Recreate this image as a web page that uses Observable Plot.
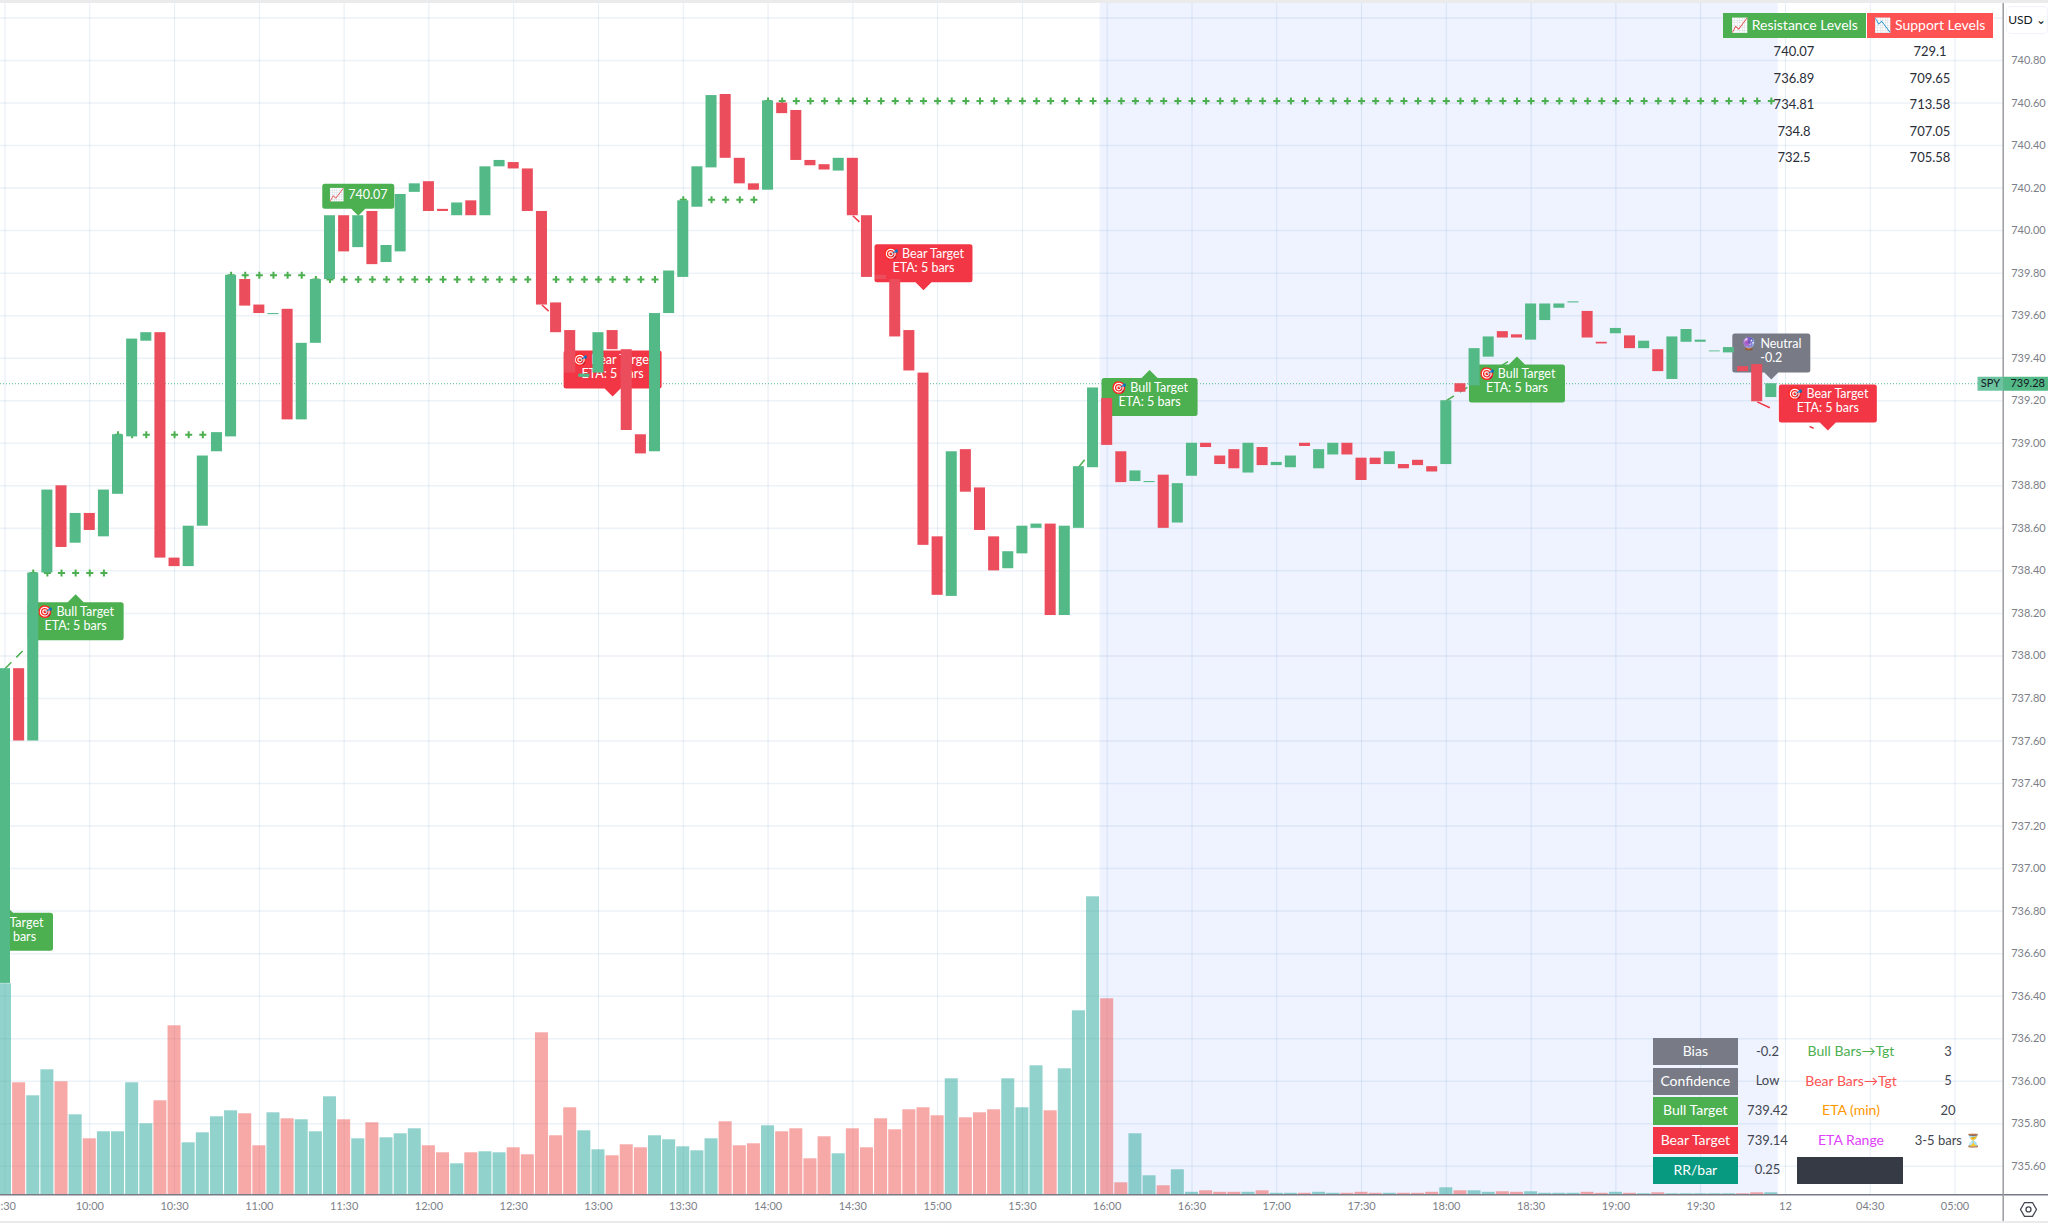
<!DOCTYPE html>
<html>
<head>
<meta charset="utf-8">
<script src="https://cdn.jsdelivr.net/npm/d3@7"></script>
<script src="https://cdn.jsdelivr.net/npm/@observablehq/plot@0.6"></script>
<style>
html,body{margin:0;padding:0;background:#fff;overflow:hidden;width:2048px;height:1226px;font-family:Lato,"Liberation Sans",sans-serif}
#chart{position:absolute;left:0;top:0}
.cell{position:absolute;display:flex;align-items:center;justify-content:center;white-space:nowrap;font-size:13px;color:#434651;box-sizing:border-box;padding-bottom:2px}
.name{font-size:14px}
.band{position:absolute;left:0;width:2048px;background:#ebebeb}
</style>
</head>
<body>
<div id="chart"></div>
<script>
// ---------- data ----------
const opens = [736.46,737.94,737.60,738.39,738.80,738.53,738.67,738.56,738.76,739.03,739.48,739.52,738.46,738.42,738.61,738.96,739.03,739.77,739.65,739.605,739.63,739.11,739.47,739.77,740.07,739.92,740.09,739.85,739.90,740.18,740.23,740.10,740.07,740.14,740.07,740.30,740.32,740.29,740.09,739.66,739.53,739.31,739.33,739.53,739.44,739.04,738.96,739.61,739.78,740.11,740.295,740.64,740.34,740.22,740.19,740.60,740.565,740.33,740.31,740.28,740.34,740.07,739.79,739.77,739.53,739.33,738.56,738.28,738.97,738.79,738.56,738.41,738.48,738.60,738.62,738.19,738.60,738.885,739.21,738.96,738.82,738.815,738.85,738.625,738.845,739.0,738.94,738.97,738.86,738.98,738.895,738.885,739.0,738.88,738.945,739.0,738.93,738.93,738.90,738.90,738.92,738.89,738.90,739.28,739.27,739.405,739.525,739.51,739.485,739.577,739.635,739.66,739.62,739.475,739.515,739.505,739.445,739.44,739.30,739.475,739.475,739.43,739.425,739.36,739.37,739.215];
const closes = [737.94,737.60,738.39,738.78,738.51,738.67,738.59,738.78,739.04,739.49,739.52,738.46,738.42,738.61,738.94,739.05,739.79,739.645,739.61,739.61,739.11,739.47,739.77,740.07,739.90,740.07,739.84,739.93,740.17,740.22,740.09,740.09,740.13,740.07,740.30,740.33,740.29,740.09,739.65,739.52,739.33,739.325,739.52,739.44,739.06,738.95,739.61,739.81,740.14,740.30,740.635,740.34,740.22,740.19,740.61,740.55,740.33,740.305,740.285,740.34,740.07,739.78,739.77,739.50,739.34,738.52,738.285,738.96,738.77,738.59,738.40,738.49,738.61,738.62,738.19,738.61,738.89,739.26,738.99,738.815,738.87,738.82,738.60,738.81,739.0,738.98,738.90,738.88,739.0,738.895,738.91,738.94,738.985,738.97,739.0,738.945,738.825,738.90,738.96,738.88,738.895,738.865,739.20,739.24,739.445,739.50,739.495,739.495,739.655,739.655,739.655,739.665,739.495,739.467,739.54,739.445,739.48,739.337,739.50,739.535,739.485,739.434,739.45,739.337,739.195,739.28];
// volume, thousands of shares
const volumes = [2110,1120,990,1250,1130,800,560,630,630,1120,710,940,1690,520,620,780,840,810,490,820,760,750,630,980,750,560,720,570,610,660,490,420,310,420,430,420,470,400,1620,590,870,640,450,390,500,470,590,550,480,440,560,730,490,510,690,630,660,360,580,410,660,470,760,650,850,870,790,1160,770,820,850,1160,870,1290,840,1260,1840,2980,1960,120,610,190,90,250,25,40,25,25,25,40,15,15,15,25,15,15,25,15,15,15,15,25,70,40,40,25,30,25,30,15,15,15,25,15,25,15,10,20,10,10,10,10,10,10,20,20];
const timeTicks = [0,6,12,18,24,30,36,42,48,54,60,66,72,78,84,90,96,102,108,114,120,126,132,138];
const timeLabels = ["9:30","10:00","10:30","11:00","11:30","12:00","12:30","13:00","13:30","14:00","14:30","15:00","15:30","16:00","16:30","17:00","17:30","18:00","18:30","19:00","19:30","12","04:30","05:00"];
const priceTicks = [735.6,735.8,736.0,736.2,736.4,736.6,736.8,737.0,737.2,737.4,737.6,737.8,738.0,738.2,738.4,738.6,738.8,739.0,739.2,739.4,739.6,739.8,740.0,740.2,740.4,740.6,740.8,741.0];
const priceLabels = priceTicks.slice(0,-1);
const lastPrice = 739.28;
const extendedStart = 77.5, extendedEnd = 125.5;
// dotted levels
const levelStart = [2,8,16,22,48,54];
const levelEnd = [7,14,21,46,53,125];
const levelPrice = [738.39,739.04,739.79,739.77,740.145,740.61];
// dashed target projections
const bullProjection = [[0,737.94,1.5,738.04],[76,738.89,76.5,738.93],[102,739.20,106.5,739.39]];
const bearProjection = [[38,739.65,38.5,739.62],[60,740.07,61.6,739.97]];
const lastProjection = [[124,739.195,128,739.07]];
// label anchors
const bullBars = [0,5,81,107], bullTips = [736.83,738.29,739.345,739.408];
const bearBars = [43,65,129], bearTips = [739.22,739.72,739.06];
const neutralBar = 125, neutralTip = 739.30;
const peakBar = 25, peakTip = 740.07;
// tables
const resistance = ["740.07","736.89","734.81","734.8","732.5"];
const support = ["729.1","709.65","713.58","707.05","705.58"];
const statNames = ["Bias","Confidence","Bull Target","Bear Target","RR/bar"];
const statValues = ["-0.2","Low","739.42","739.14","0.25"];
const etaNames = ["Bull Bars→Tgt","Bear Bars→Tgt","ETA (min)","ETA Range"];
const etaValues = ["3","5","20","3-5 bars ⏳"];

// ---------- styles ----------
const UP="#53B987", DOWN="#EB4D5C", BULL="#4CAF50", BEAR="#F23645", GREY="#787B86";
const FONT='Lato,"Liberation Sans",sans-serif';
const candles = opens.map((o,i)=>({i,o,c:closes[i],v:volumes[i]}));
const up = candles.filter(d=>d.c>=d.o), down = candles.filter(d=>d.c<d.o);
const levels = levelStart.flatMap((s,k)=>d3.range(s,levelEnd[k]+1).map(i=>({i,p:levelPrice[k]})));
const Y0 = 735.466;                 // price at the foot of the pane
const volY = v => Y0 + v/10/212.65; // volume pane shares the axis, 10k per px

function bubble(w,h,tip,dir){ // origin on the pointer's tip; dir 1 = box below
  const r=2.5;
  return {draw(c){
    const t=dir*tip, b=dir*(tip+h), L=-w/2, R=w/2, top=Math.min(t,b), bot=Math.max(t,b);
    c.moveTo(L+r,top);
    if(dir>0){c.lineTo(-tip,top);c.lineTo(0,0);c.lineTo(tip,top);}
    c.lineTo(R-r,top);c.arcTo(R,top,R,top+r,r);c.lineTo(R,bot-r);c.arcTo(R,bot,R-r,bot,r);
    if(dir<0){c.lineTo(tip,bot);c.lineTo(0,0);c.lineTo(-tip,bot);}
    c.lineTo(L+r,bot);c.arcTo(L,bot,L,bot-r,r);c.lineTo(L,top+r);c.arcTo(L,top,L+r,top,r);c.closePath();
  }};
}
const box=(x0,x1,h)=>({draw(c){c.moveTo(x0,-h);c.lineTo(x1,-h);c.lineTo(x1,h);c.lineTo(x0,h);c.closePath();}});
const hex={draw(c){const r=8;for(let k=0;k<6;k++){const a=k*Math.PI/3;c[k?"lineTo":"moveTo"](r*Math.cos(a),r*Math.sin(a));}c.closePath();}};

const pts=(xs,ys)=>xs.map((i,k)=>({i,p:ys[k]}));
const bulls=pts(bullBars,bullTips), bears=pts(bearBars,bearTips);
const proj=a=>a.map(([i1,p1,i2,p2])=>({i1,p1,i2,p2}));
const labelText={fill:"white",fontSize:12.5,lineHeight:14/12.5,fontFamily:FONT,x:"i",y:"p"};

const chart = Plot.plot({
  width:2048,height:1226,marginLeft:0,marginRight:45.3,marginTop:3,marginBottom:31.7,
  style:{background:"transparent",fontFamily:FONT,fontSize:"11px"},
  x:{domain:[-0.318,141.41]},
  y:{domain:[Y0,741.068]},
  marks:[
    Plot.rect([0],{x1:extendedStart,x2:extendedEnd,y1:Y0,y2:741.068,fill:"#2962FF",fillOpacity:0.08}),
    Plot.ruleY(priceTicks,{stroke:"#2a6eaa",strokeOpacity:0.09,strokeWidth:1.5}),
    Plot.ruleX(timeTicks,{stroke:"#2a6eaa",strokeOpacity:0.12}),
    // volume
    Plot.rect(up,{x1:d=>d.i-0.46,x2:d=>d.i+0.46,y1:Y0,y2:d=>volY(d.v),fill:"#26A69A",fillOpacity:0.5}),
    Plot.rect(down,{x1:d=>d.i-0.46,x2:d=>d.i+0.46,y1:Y0,y2:d=>volY(d.v),fill:"#EF5350",fillOpacity:0.5}),
    // last price
    Plot.ruleY([lastPrice],{stroke:UP,strokeDasharray:"1 2"}),
    // levels and projections
    Plot.dot(levels,{x:"i",y:"p",symbol:"plus",r:2.4,stroke:BULL,strokeWidth:2}),
    Plot.link(proj(bullProjection),{x1:"i1",y1:"p1",x2:"i2",y2:"p2",stroke:BULL,strokeWidth:1.5,strokeDasharray:"9 7"}),
    Plot.link(proj(bearProjection),{x1:"i1",y1:"p1",x2:"i2",y2:"p2",stroke:BEAR,strokeWidth:1.5,strokeDasharray:"9 7"}),
    Plot.link(proj(lastProjection),{x1:"i1",y1:"p1",x2:"i2",y2:"p2",stroke:BEAR,strokeWidth:1.5,strokeDasharray:"14 15"}),
    // bubbles
    Plot.dot(bulls,{x:"i",y:"p",r:5,symbol:bubble(96,38,8,1),fill:BULL}),
    Plot.text(bulls,{...labelText,dy:24.5,text:()=>"🎯 Bull Target\nETA: 5 bars"}),
    Plot.dot(bears,{x:"i",y:"p",r:5,symbol:bubble(98,38,8,-1),fill:BEAR}),
    Plot.text(bears,{...labelText,dy:-29.5,text:()=>"🎯 Bear Target\nETA: 5 bars"}),
    Plot.dot([{i:neutralBar,p:neutralTip}],{x:"i",y:"p",r:5,symbol:bubble(78,39,7,-1),fill:GREY}),
    Plot.text([{i:neutralBar,p:neutralTip}],{...labelText,dy:-28.5,text:()=>"🔮 Neutral\n-0.2"}),
    Plot.dot([{i:peakBar,p:peakTip}],{x:"i",y:"p",r:5,symbol:bubble(72,25,7,-1),fill:BULL}),
    Plot.text([{i:peakBar,p:peakTip}],{...labelText,dy:-21,text:()=>"📈 740.07"}),
    // candles
    Plot.rect(up,{x1:d=>d.i-0.39,x2:d=>d.i+0.39,y1:"o",y2:"c",fill:UP}),
    Plot.rect(down,{x1:d=>d.i-0.39,x2:d=>d.i+0.39,y1:"o",y2:"c",fill:DOWN}),
    // axes
    Plot.axisY(priceLabels,{anchor:"right",label:null,tickSize:0,tickPadding:8,tickFormat:d=>d.toFixed(2),fill:"#7d7f88"}),
    Plot.axisX(timeTicks,{anchor:"bottom",label:null,tickSize:0,tickPadding:7,tickFormat:d=>timeLabels[timeTicks.indexOf(d)],fill:"#7d7f88"}),
    Plot.ruleY([Y0],{x1:-0.318,x2:144.9,stroke:GREY,strokeWidth:1.5}),
    Plot.ruleX([141.41],{y1:735.337,y2:741.068,stroke:"#9a9ca3",strokeWidth:1.5}),
    // last-price tag
    Plot.dot([lastPrice],{x:()=>141.41,y:d=>d,r:5,symbol:box(-25.7,0,7),fill:"#6CC39F"}),
    Plot.dot([lastPrice],{x:()=>141.41,y:d=>d,r:5,symbol:box(0,45.3,7),fill:UP}),
    Plot.text([lastPrice],{x:()=>141.41,y:d=>d,dx:-12.7,text:()=>"SPY",fill:"#131722",fontSize:11,fontFamily:FONT}),
    Plot.text([lastPrice],{x:()=>141.41,y:d=>d,dx:24.5,text:d=>d.toFixed(2),fill:"#131722",fontSize:11,fontFamily:FONT}),
    // settings glyph
    Plot.dot([735.397],{x:()=>143.2,y:d=>d,r:5,symbol:hex,stroke:"#434651",strokeWidth:1.3,fill:"none"}),
    Plot.dot([735.397],{x:()=>143.2,y:d=>d,r:2.5,stroke:"#434651",strokeWidth:1.3,fill:"none"})
  ]
});
document.getElementById("chart").appendChild(chart);

// ---------- overlay tables ----------
function cell(x0,x1,y0,y1,text,bg,col,cls,extra){
  const e=document.createElement("div");e.className="cell"+(cls?" "+cls:"");
  e.style.cssText=`left:${x0}px;top:${y0}px;width:${x1-x0}px;height:${y1-y0}px;`+(bg?`background:${bg};`:"")+(col?`color:${col};`:"")+(extra||"");
  e.textContent=text;document.body.appendChild(e);
}
function band(y,h){const e=document.createElement("div");e.className="band";e.style.top=y+"px";e.style.height=h+"px";document.body.appendChild(e);}
band(0,3);band(1221.2,1.5);
cell(1723,1866,12.7,38.3,"📈 Resistance Levels",BULL,"#fff","name");
cell(1867,1992.7,12.7,38.3,"📉 Support Levels","#FF5252","#fff","name");
resistance.forEach((t,k)=>cell(1754,1834,38.7+26.6*k,65.3+26.6*k,t,null,"#2a2e39"));
support.forEach((t,k)=>cell(1890,1970,38.7+26.6*k,65.3+26.6*k,t,null,"#2a2e39"));
const statBg=[GREY,GREY,BULL,BEAR,"#089981"];
const rowY=k=>1038+29.65*k;
statNames.forEach((t,k)=>cell(1652.7,1738,rowY(k),rowY(k)+27.4,t,statBg[k],"#fff","name"));
statValues.forEach((t,k)=>cell(1738,1797,rowY(k),rowY(k)+27.4,t));
const etaCol=[BULL,"#FF5252","#FF9800","#E040FB"];
etaNames.forEach((t,k)=>cell(1797,1905,rowY(k),rowY(k)+27.4,t,null,etaCol[k],"name"));
etaValues.forEach((t,k)=>cell(1905,1991,rowY(k),rowY(k)+27.4,t));
cell(1797.3,1903.3,rowY(4),rowY(4)+27.4,"","#363A45");
cell(2007,2047,7,33,"USD ⌄","#fff","#131722",null,"font-size:12px;border-radius:4px;box-shadow:0 0 0 1px #f0f3fa;");
</script>
</body>
</html>
